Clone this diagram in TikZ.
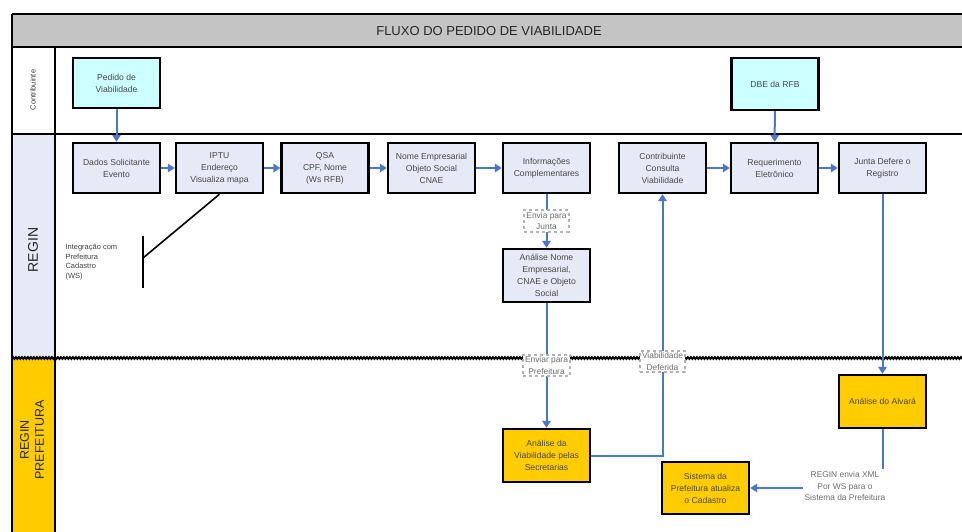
\documentclass[tikz,border=0pt]{standalone}
\usepackage{fontspec}
\setmainfont{Liberation Sans}
\usetikzlibrary{arrows.meta,decorations.pathmorphing}
\definecolor{cyanfill}{HTML}{CCFFFF}
\definecolor{lavfill}{HTML}{E6EAF6}
\definecolor{orfill}{HTML}{FFCC00}
\definecolor{connblue}{HTML}{4A78C8}
\definecolor{txtgray}{HTML}{484848}
\definecolor{titlegray}{HTML}{C4C4C4}
\newcommand{\boxfont}{\fontsize{8.6}{12}\selectfont}
\newcommand{\lblfont}{\fontsize{8.4}{11.5}\selectfont}
\tikzset{
  box/.style={draw=black, line width=2.4pt, minimum width=87pt, minimum height=50pt,
    align=center, inner sep=1pt, font=\boxfont, text=txtgray},
  cyanbox/.style={box, fill=cyanfill},
  bluebox/.style={box, fill=lavfill},
  orbox/.style={box, fill=orfill},
  conn/.style={draw=connblue, line width=2pt, -{Triangle[length=7pt,width=8.5pt]}},
  lbl/.style={draw=gray!60, dashed, fill=white, font=\lblfont, text=gray!85!black,
    align=center, inner sep=2pt},
  lane/.style={line width=2.4pt, draw=black},
}
\begin{document}
\begin{tikzpicture}[x=1pt,y=-1pt]
\useasboundingbox (0,0) rectangle (962,531);
\begin{scope}
\clip (0,0) rectangle (962,531);
% title band
\fill[titlegray] (12,14) rectangle (975,47);
\draw[lane] (12,14) -- (975,14);
\draw[lane] (12,47) -- (975,47);
\node[font=\fontsize{13}{15}\selectfont, text=black!85] (title) at (489,31) {FLUXO DO PEDIDO DE VIABILIDADE};
% lane label column fills
\fill[lavfill] (12,134) rectangle (55,358);
\fill[orfill] (12,358) rectangle (55,540);
% lane lines
\draw[lane] (12,14) -- (12,540);
\draw[lane] (55,47) -- (55,540);
\draw[lane] (12,134) -- (975,134);
\draw[line width=1.9pt, decorate, decoration={snake, amplitude=0.9pt, segment length=3pt}] (12,358) -- (975,358);
\end{scope}
% lane labels
\node[rotate=90, font=\fontsize{7.5}{9}\selectfont, text=black!80] (l1) at (33,90) {Contribuinte};
\node[rotate=90, font=\fontsize{14}{16}\selectfont, text=black!85] (l2) at (33,250) {REGIN};
\node[rotate=90, align=center, font=\fontsize{12.5}{15}\selectfont, text=black!85] (l3) at (32,440) {REGIN\\PREFEITURA};
% boxes
\node[cyanbox] (ped) at (116.5,83) {Pedido de\\Viabilidade};
\node[cyanbox, minimum height=52pt] (dbe) at (775,84) {DBE da RFB};
\node[bluebox] (dados) at (116.5,168) {Dados Solicitante\\Evento};
\node[bluebox] (iptu) at (219.5,168) {IPTU\\Endereço\\Visualiza mapa};
\node[bluebox] (qsa) at (325,168) {QSA\\CPF, Nome\\(Ws RFB)};
\node[bluebox] (nome) at (431.5,168) {Nome Empresarial\\Objeto Social\\CNAE};
\node[bluebox] (info) at (546.5,168) {Informações\\Complementares};
\node[bluebox] (contr) at (662.5,168) {Contribuinte\\Consulta\\Viabilidade};
\node[bluebox] (req) at (774.5,168) {Requerimento\\Eletrônico};
\node[bluebox] (junta) at (882.5,168) {Junta Defere o\\Registro};
\node[bluebox, minimum height=53pt] (anome) at (546.5,275.5) {Análise Nome\\Empresarial,\\CNAE e Objeto\\Social};
\node[orbox, minimum height=53pt] (aviab) at (546.5,455.5) {Análise da\\Viabilidade pelas\\Secretarias};
\node[orbox, minimum height=52pt] (sist) at (705.5,488) {Sistema da\\Prefeitura atualiza\\o Cadastro};
\node[orbox, minimum height=53pt] (alvara) at (882.5,401.5) {Análise do Alvará};
% connectors
\draw[conn] (ped) -- (dados);
\draw[conn] (dbe) -- (req);
\draw[conn] (dados) -- (iptu);
\draw[conn] (iptu) -- (qsa);
\draw[conn] (qsa) -- (nome);
\draw[conn] (nome) -- (info);
\draw[conn] (contr) -- (req);
\draw[conn] (req) -- (junta);
\draw[conn] (info) -- (anome) node[lbl, pos=0.5] (l_junta) {Envia para\\Junta};
\draw[conn] (anome) -- (aviab) node[lbl, pos=0.5] (l_pref) {Enviar para\\Prefeitura};
\draw[conn] (aviab.east) -| (contr.south) node[lbl, pos=0.68] (l_def) {Viabilidade\\Deferida};
\draw[conn] (junta) -- (alvara);
\draw[conn] (alvara.south) |- (sist.east);
\node[lbl, draw=none] (l_xml) at (845,486) {REGIN envia XML\\Por WS para o\\Sistema da Prefeitura};
% annotation
\coordinate (brtop) at (143,236);
\coordinate (brbot) at (143,288);
\coordinate (brmid) at (143,258);
\draw[line width=1.8pt] (brtop) -- (brbot);
\draw[line width=1.6pt] (iptu.south) -- (brmid);
\node[align=left, anchor=west, font=\fontsize{7.5}{9.5}\selectfont, text=black!75] (note) at (62,262) {Integração com\\Prefeitura\\Cadastro\\(WS)};
\end{tikzpicture}
\end{document}
